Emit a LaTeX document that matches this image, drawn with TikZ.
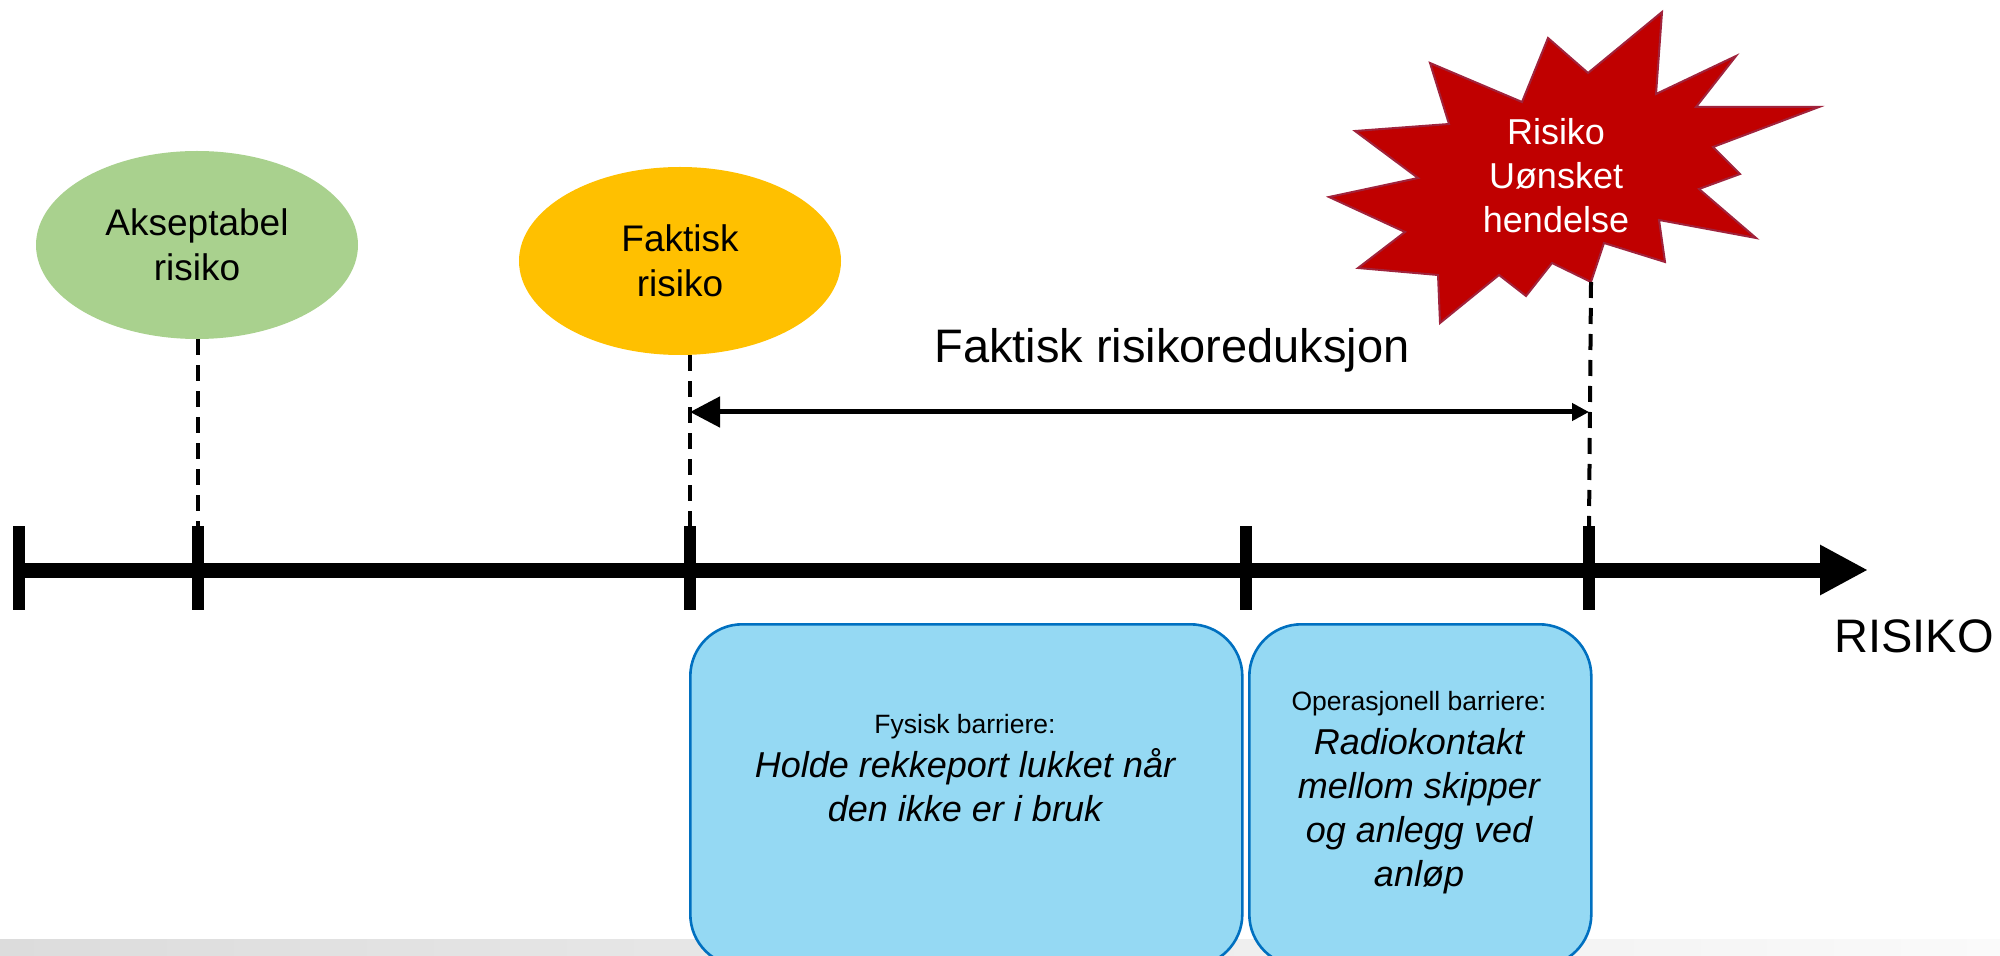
\documentclass[tikz,border=0pt]{standalone}
\usepackage{fontspec}
\setmainfont{Liberation Sans}
\usetikzlibrary{shapes.geometric,arrows.meta}
\definecolor{risgreen}{HTML}{A9D18E}
\definecolor{risorange}{HTML}{FFC000}
\definecolor{risred}{HTML}{C00000}
\definecolor{risredline}{HTML}{A0233C}
\definecolor{risblue}{HTML}{95D9F3}
\definecolor{risblueline}{HTML}{0070C0}
\definecolor{risgray}{HTML}{DCDCDC}
\definecolor{rislight}{HTML}{FAFAFA}

\tikzset{
  riskoval/.style={ellipse, minimum width=161pt, minimum height=94pt, inner sep=0pt, align=center, font=\fontsize{18.5}{22.5}\selectfont},
  barrier/.style={draw=risblueline, line width=1.3pt, fill=risblue, rounded corners=26pt, inner sep=0pt, minimum height=171pt, anchor=north west},
  barriertext/.style={align=center, font=\fontsize{18}{22}\selectfont\itshape},
  guide/.style={line width=2pt, dash pattern=on 8pt off 5pt},
}

\begin{document}
\begin{tikzpicture}[x=0.5pt, y=-0.5pt]
\useasboundingbox (0,0) rectangle (2000,956);
\clip (0,0) rectangle (2000,956);
\shade[left color=risgray, right color=rislight] (0,939) rectangle (2000,956);

% risk levels
\node[riskoval, fill=risgreen] (aksept) at (197,245) {Akseptabel\\risiko};
\node[riskoval, fill=risorange] (faktisk) at (680,261) {Faktisk\\risiko};

% unwanted event
\filldraw[fill=risred, draw=risredline, line width=1pt]
  (1430,63) -- (1522,102) -- (1548,38) -- (1588,73) -- (1662,12) -- (1656,94)
  -- (1736,56) -- (1696,107) -- (1819,107) -- (1713,147) -- (1740,174)
  -- (1699,189) -- (1756,238) -- (1659,220) -- (1665,262) -- (1604,243)
  -- (1591,282) -- (1552,263) -- (1526,296) -- (1499,275) -- (1440,323)
  -- (1438,275) -- (1358,268) -- (1405,232) -- (1329,197) -- (1418,178)
  -- (1355,131) -- (1449,124) -- cycle;
\coordinate (burst) at (1591,282);
\node[text=white, align=center, font=\fontsize{18}{22}\selectfont] (hendelse) at (1556,176) {Risiko\\Uønsket\\hendelse};

% axis
\foreach \x [count=\i] in {19,198,690,1246,1589}
  \draw[line width=6pt] (\x,526) coordinate (tick\i) -- (\x,610);
\coordinate (axisend) at (1868,570);
\draw[line width=7.5pt, -{Triangle[length=24pt, width=23.5pt]}] (19,570) -- (axisend);
\node[anchor=base, font=\fontsize{23.5}{28}\selectfont] (risiko) at (1914,652) {RISIKO};

% guides
\draw[guide] (aksept.south -| tick2) -- (tick2);
\draw[guide] (faktisk.south -| tick3) -- (tick3);
\draw[guide] (burst) -- (tick5);

% reduction
\coordinate (redL) at (690,412);
\coordinate (redR) at (1589,412);
\draw[line width=2.5pt, {Triangle[length=15pt, width=15pt]}-{Triangle[length=8.5pt, width=8.5pt]}] (redL) -- (redR);
\node[anchor=base, font=\fontsize{23.5}{28}\selectfont] (reduksjon) at (1172,363) {Faktisk risikoreduksjon};

% barriers
\node[barrier, minimum width=276pt] (fysisk) at (689,623) {};
\node[barrier, minimum width=171pt] (operasjonell) at (1248,623) {};
\node[barriertext] (fysisktxt) at (965,768) {{\upshape\fontsize{13.25}{16}\selectfont Fysisk barriere:}\\Holde rekkeport lukket når\\den ikke er i bruk};
\node[barriertext] (operasjonelltxt) at (1419,793) {{\upshape\fontsize{13.25}{16}\selectfont Operasjonell barriere:}\\Radiokontakt\\mellom skipper\\og anlegg ved\\anløp};
\end{tikzpicture}
\end{document}
